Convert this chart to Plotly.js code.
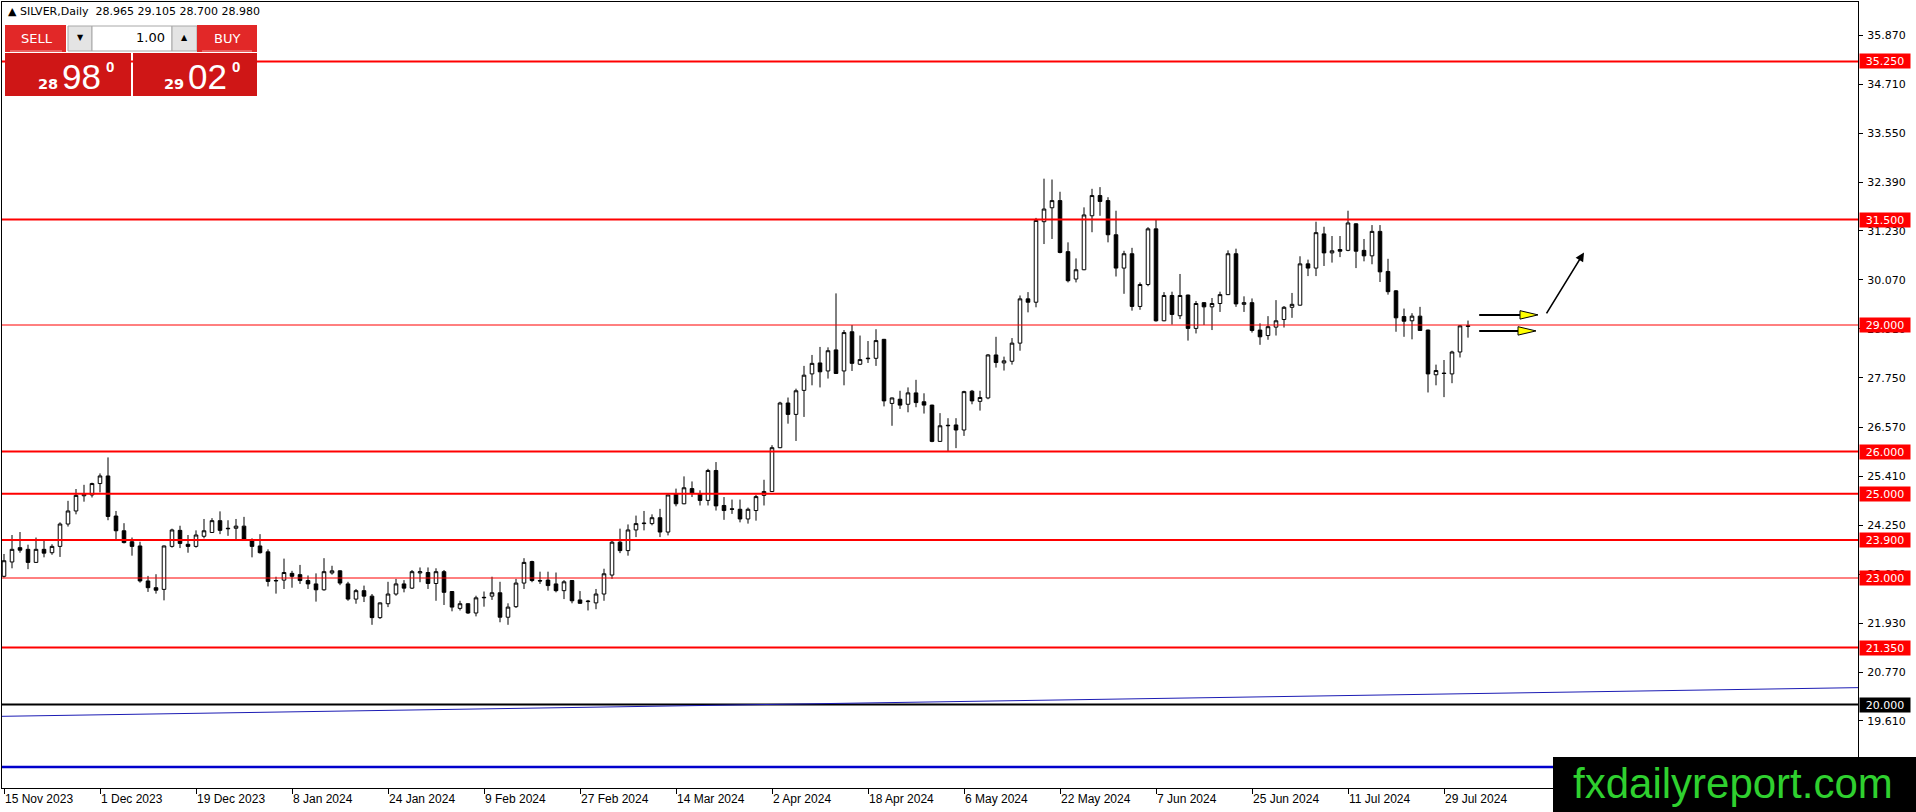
<!DOCTYPE html>
<html>
<head>
<meta charset="utf-8">
<script src="https://cdn.plot.ly/plotly-3.0.1.min.js"></script>
<style>html,body{margin:0;padding:0;background:#fff;}#chart{width:1916px;height:812px;}</style>
</head>
<body>
<div id="chart"></div>
<script>
// ---------- DATA ----------
const holidays = ["2023-12-25", "2024-01-01", "2024-03-29"];
function tradingDays(start, count, skip) {
  const out = []; const d = new Date(start + "T00:00:00Z");
  while (out.length < count) {
    const s = d.toISOString().slice(0, 10); const wd = d.getUTCDay();
    if (wd !== 0 && wd !== 6 && skip.indexOf(s) < 0) out.push(s);
    d.setUTCDate(d.getUTCDate() + 1);
  }
  return out;
}
const openP = [
23.04,23.38,23.72,23.68,23.37,23.68,23.60,23.75,24.28,24.59,24.95,24.97,25.24,25.42,24.47,24.12,23.86,23.76,22.93,22.77,
22.73,23.75,24.13,23.80,23.75,23.99,24.08,24.36,24.18,24.18,24.23,23.88,23.76,23.62,22.93,22.95,23.11,23.08,22.94,22.86,
22.72,23.12,23.17,22.86,22.50,22.70,22.57,22.06,22.39,22.62,22.86,22.76,23.12,23.13,22.87,23.15,22.68,22.28,22.39,22.17,
22.53,22.57,22.65,22.07,22.32,22.88,23.39,22.94,22.95,22.86,22.70,22.94,22.48,22.44,22.41,22.62,23.07,23.85,23.65,24.14,
24.29,24.29,24.43,24.09,25.00,24.76,25.12,25.00,24.84,25.55,24.72,24.64,24.63,24.40,24.60,24.96,25.05,26.09,27.15,26.88,
27.45,27.84,28.10,27.91,28.41,27.91,28.84,28.07,28.20,28.21,28.66,27.14,27.24,27.12,27.39,27.18,27.10,26.24,26.61,26.63,
26.51,27.43,27.19,27.27,28.29,28.10,28.14,28.57,29.62,29.54,31.45,31.78,31.95,30.74,30.09,30.31,31.59,32.07,31.95,31.14,
30.35,30.69,29.44,29.96,31.28,29.10,29.70,29.22,29.71,28.92,29.53,29.43,29.51,29.72,30.69,29.49,29.53,28.88,28.75,28.95,
29.13,29.42,29.47,30.45,30.35,31.16,30.71,30.79,30.77,31.40,30.77,30.64,31.22,30.27,29.81,29.20,29.10,29.21,28.88,27.82,
27.86,27.84,28.36,28.965];
const highP = [
23.57,24.02,24.09,23.79,23.96,23.88,23.80,24.32,24.83,25.11,25.21,25.26,25.48,25.86,24.59,24.30,23.96,23.86,23.05,23.09,
23.77,24.17,24.24,24.02,24.13,24.40,24.42,24.58,24.37,24.40,24.45,23.94,24.04,23.68,23.03,23.46,23.17,23.31,23.06,23.11,
23.47,23.29,23.18,22.91,22.74,22.82,22.62,22.42,22.91,22.98,22.95,23.19,23.25,23.25,23.23,23.19,22.69,22.46,22.40,22.58,
22.68,23.03,22.91,22.40,22.98,23.47,23.41,23.15,23.15,23.13,22.95,22.95,22.69,22.48,22.74,23.22,23.89,24.17,24.27,24.48,
24.59,24.51,24.64,24.98,25.12,25.41,25.29,25.08,25.59,25.75,24.92,24.86,24.86,24.67,24.97,25.33,26.15,27.18,27.28,27.49,
28.03,28.29,28.48,28.47,29.75,28.88,29.00,28.75,28.62,28.90,28.67,27.28,27.44,27.52,27.70,27.38,27.11,26.91,26.79,26.79,
27.44,27.46,27.44,28.31,28.72,28.25,28.69,29.70,29.78,31.54,32.47,32.45,32.16,30.96,30.58,31.79,32.23,32.27,32.03,31.71,
30.76,30.83,30.01,31.32,31.49,29.78,29.79,30.21,29.72,29.57,29.54,29.64,29.79,30.77,30.81,29.68,29.63,29.04,29.21,29.59,
29.45,29.76,30.63,30.55,31.45,31.33,31.11,31.11,31.71,31.41,31.04,31.37,31.37,30.57,29.83,29.39,29.28,29.43,28.89,28.06,
28.17,28.39,29.00,29.105];
const lowP = [
23.01,23.23,23.60,23.21,23.36,23.49,23.55,23.50,24.22,24.51,24.81,24.91,25.03,24.37,23.92,23.82,23.53,22.89,22.67,22.63,
22.47,23.72,23.71,23.60,23.72,23.94,24.07,24.04,24.00,23.92,23.91,23.49,23.58,22.80,22.63,22.74,22.77,22.86,22.74,22.44,
22.70,23.08,22.83,22.46,22.39,22.43,21.89,22.03,22.31,22.58,22.66,22.74,22.90,22.74,22.46,22.36,22.21,22.23,22.15,22.09,
22.32,22.48,21.95,21.89,22.29,22.74,22.90,22.86,22.70,22.66,22.50,22.40,22.39,22.23,22.26,22.46,22.98,23.59,23.53,23.97,
24.13,24.25,23.97,24.01,24.70,24.75,24.92,24.72,24.72,24.60,24.38,24.52,24.32,24.29,24.36,24.72,25.04,26.08,26.66,26.25,
26.82,27.57,27.52,27.73,27.84,27.57,27.91,28.05,28.10,28.03,27.07,26.61,27.01,26.93,27.05,26.90,26.22,26.23,26.00,26.08,
26.37,27.12,26.97,27.24,27.99,27.92,28.06,28.39,29.30,29.42,30.92,31.04,30.70,30.01,30.01,30.30,31.20,31.59,30.96,30.15,
29.74,29.34,29.36,29.92,29.08,29.09,29.01,29.14,28.63,28.80,29.00,28.88,29.31,29.71,29.43,29.31,28.82,28.53,28.65,28.75,
28.94,29.17,29.46,30.16,30.16,30.40,30.48,30.61,30.75,30.35,30.51,30.44,30.02,29.72,28.84,28.72,28.66,28.86,27.40,27.57,
27.29,27.62,28.23,28.700];
const closeP = [
23.41,23.68,23.66,23.37,23.68,23.59,23.75,24.28,24.59,24.96,24.99,25.24,25.42,24.46,24.12,23.84,23.75,22.93,22.77,22.71,
23.76,24.14,23.82,23.75,24.02,24.12,24.36,24.13,24.17,24.23,23.92,23.75,23.60,22.92,22.94,23.13,23.04,22.94,22.86,22.72,
23.15,23.17,22.88,22.50,22.70,22.57,22.06,22.41,22.62,22.86,22.76,23.15,23.15,22.87,23.15,22.66,22.31,22.39,22.17,22.53,
22.54,22.65,22.07,22.31,22.88,23.37,22.94,22.93,22.82,22.70,22.91,22.46,22.40,22.45,22.62,23.10,23.85,23.65,24.14,24.29,
24.30,24.43,24.09,24.97,24.76,25.14,25.01,24.84,25.55,24.71,24.60,24.63,24.40,24.63,24.93,25.05,26.09,27.15,26.88,27.44,
27.81,28.09,27.89,28.39,27.85,28.82,28.09,28.18,28.21,28.63,27.20,27.27,27.10,27.39,27.16,27.10,26.24,26.61,26.62,26.51,
27.42,27.20,27.28,28.29,28.11,28.15,28.57,29.62,29.54,31.48,31.75,31.95,30.72,30.05,30.31,31.61,32.07,31.93,31.14,30.35,
30.69,29.44,29.96,31.28,29.10,29.70,29.25,29.70,28.92,29.51,29.43,29.51,29.72,30.69,29.50,29.53,28.87,28.72,28.96,29.10,
29.42,29.49,30.45,30.35,31.19,30.71,30.76,30.75,31.42,30.75,30.64,31.22,30.26,29.79,29.17,29.09,29.21,28.87,27.84,27.92,
27.85,28.36,28.98,28.980];
const dates = tradingDays("2023-11-15", openP.length, holidays);
const tickDates = ["2023-11-15","2023-12-01","2023-12-19","2024-01-08","2024-01-24","2024-02-09","2024-02-27","2024-03-14",
  "2024-04-02","2024-04-18","2024-05-06","2024-05-22","2024-06-07","2024-06-25","2024-07-11","2024-07-29"];
const tickLabels = ["15 Nov 2023","1 Dec 2023","19 Dec 2023","8 Jan 2024","24 Jan 2024","9 Feb 2024","27 Feb 2024","14 Mar 2024",
  "2 Apr 2024","18 Apr 2024","6 May 2024","22 May 2024","7 Jun 2024","25 Jun 2024","11 Jul 2024","29 Jul 2024"];
const priceTicks = [35.87,34.71,33.55,32.39,31.23,30.07,28.91,27.75,26.57,25.41,24.25,23.09,21.93,20.77,19.61];
const priceTickText = ["35.870","34.710","33.550","32.390","31.230","30.070","28.910","27.750","26.570","25.410","24.250","23.090","21.930","20.770","19.610"];
const redLevels = [35.25, 31.5, 29.0, 26.0, 25.0, 23.9, 23.0, 21.35];
const redLevelWidths = [2, 2, 1, 2, 2, 2, 1, 2];
const blackLevel = 20.0;
const trendLine = [19.72, 20.40];     // blue trend line, left and right price
const lowerBlueLevel = 18.52;
const header = "\u25B2 SILVER,Daily\u00A0\u00A028.965 29.105 28.700 28.980";
const arrowPrices = [29.24, 28.86];
const diagArrow = {x0: 192.7, y0: 29.24, x1: 197.5, y1: 30.72};

// ---------- GEOMETRY ----------
const W = 1916, H = 812, ML = 2, MR = 58, MT = 2, MB = 24;
const PW = W - ML - MR, PH = H - MT - MB;
const px = x => (x - ML) / PW;
const py = y => 1 - (y - MT) / PH;

const xIdx = dates.map((d, i) => i);
const tickVals = tickDates.map(d => dates.indexOf(d));

const shapes = [];
redLevels.forEach((v, k) => shapes.push({type:'line', xref:'paper', yref:'y', x0:0, x1:1, y0:v, y1:v,
  line:{color:'#ff0000', width:redLevelWidths[k]}}));
shapes.push({type:'line', xref:'paper', yref:'y', x0:0, x1:1, y0:blackLevel, y1:blackLevel, line:{color:'#000', width:2}});
shapes.push({type:'line', xref:'paper', yref:'y', x0:0, x1:1, y0:trendLine[0], y1:trendLine[1], line:{color:'#1c1cb4', width:1}});
shapes.push({type:'line', xref:'paper', yref:'y', x0:0, x1:1, y0:lowerBlueLevel, y1:lowerBlueLevel, line:{color:'#0000cc', width:2.5}});

// yellow arrows
const arrowStart = 184.4;
[[191.75, 189.5],[191.5, 189.25]].forEach((a, k) => {
  const yv = arrowPrices[k], hh = 0.1;
  shapes.push({type:'line', xref:'x', yref:'y', x0:arrowStart, x1:a[1]+0.5, y0:yv, y1:yv, line:{color:'#000', width:2}});
  shapes.push({type:'path', xref:'x', yref:'y',
    path:`M ${a[1]},${yv-hh} L ${a[0]},${yv} L ${a[1]},${yv+hh} Z`, fillcolor:'#ffff00', line:{color:'#000', width:1}});
});

function rect(x0, y0, x1, y1, fill, lineColor) {
  shapes.push({type:'rect', xref:'paper', yref:'paper', x0:px(x0), x1:px(x1), y0:py(y1), y1:py(y0),
    fillcolor:fill, line:{width: lineColor ? 1 : 0, color: lineColor || fill}});
}
function hline(x0, x1, y, color) {
  shapes.push({type:'line', xref:'paper', yref:'paper', x0:px(x0), x1:px(x1), y0:py(y), y1:py(y), line:{color:color, width:1}});
}
// trading panel
rect(5, 25, 66, 52, '#e22828');
rect(68, 26, 92, 51, '#e4e4e4', '#a8a8a8');
rect(92, 26, 172, 51, '#ffffff', '#a8a8a8');
rect(172, 26, 197, 51, '#e4e4e4', '#a8a8a8');
rect(197, 25, 257, 52, '#e22828');
hline(10, 62, 51, '#f29a9a');
hline(202, 252, 51, '#f29a9a');
rect(5, 53, 131, 96, '#cf1616');
rect(133, 53, 257, 96, '#cf1616');
// watermark
rect(1553, 757, 1917, 813, '#000000');

const annotations = [];
function txt(x, y, text, size, color, opts) {
  annotations.push(Object.assign({xref:'paper', yref:'paper', x:px(x), y:py(y), text:text, showarrow:false,
    xanchor:'center', yanchor:'middle', font:{family:'DejaVu Sans', size:size, color:color}}, opts || {}));
}
txt(6, 12, header, 11, '#000', {xanchor:'left'});
txt(37, 39, 'SELL', 13, '#fff');
txt(227, 39, 'BUY', 13, '#fff');
txt(80, 38, '\u25BC', 8, '#000');
txt(184, 38, '\u25B2', 8, '#000');
txt(167, 38, '1.00', 13, '#000', {xanchor:'right'});
txt(47.5, 84, '28', 14.5, '#fff', {font:{family:'DejaVu Sans', size:14.5, color:'#fff', weight:'bold'}});
txt(81, 76, '98', 35, '#fff', {font:{family:'Liberation Sans', size:35, color:'#fff'}});
txt(109.5, 66, '0', 15, '#fff', {font:{family:'Liberation Sans', size:15, color:'#fff', weight:'bold'}});
txt(174, 84, '29', 14.5, '#fff', {font:{family:'DejaVu Sans', size:14.5, color:'#fff', weight:'bold'}});
txt(207, 76, '02', 35, '#fff', {font:{family:'Liberation Sans', size:35, color:'#fff'}});
txt(236, 66, '0', 15, '#fff', {font:{family:'Liberation Sans', size:15, color:'#fff', weight:'bold'}});
txt(1733, 783, 'fxdailyreport.com', 42, '#2fd02f', {font:{family:'Liberation Sans', size:42, color:'#2fd02f'}});

// price labels on the right axis
function levelLabel(v, bg) {
  annotations.push({xref:'paper', yref:'y', x:1, y:v, xanchor:'left', yanchor:'middle', xshift:1,
    text:v.toFixed(3), showarrow:false, bgcolor:bg, width:48, height:12, borderpad:1, align:'center',
    font:{family:'DejaVu Sans', size:11, color:'#fff'}});
}
redLevels.forEach(v => levelLabel(v, '#ff0000'));
levelLabel(blackLevel, '#000000');
// diagonal arrow
annotations.push({xref:'x', yref:'y', axref:'x', ayref:'y', x:diagArrow.x1, y:diagArrow.y1, ax:diagArrow.x0, ay:diagArrow.y0,
  text:'', showarrow:true, arrowhead:2, arrowsize:1.1, arrowwidth:1.6, arrowcolor:'#000', standoff:0});

const trace = {
  type:'candlestick', x:xIdx, open:openP, high:highP, low:lowP, close:closeP,
  text:dates, hoverinfo:'x+text',
  increasing:{line:{color:'#000', width:1}, fillcolor:'#ffffff'},
  decreasing:{line:{color:'#000', width:1}, fillcolor:'#000000'},
  whiskerwidth:0, showlegend:false
};

const layout = {
  width:W, height:H, margin:{l:ML, r:MR, t:MT, b:MB, pad:0},
  paper_bgcolor:'#fff', plot_bgcolor:'#fff', showlegend:false, boxgap:0.36,
  font:{family:'DejaVu Sans', color:'#000'},
  xaxis:{type:'linear', range:[-0.25, 231.75], showgrid:false, zeroline:false, showline:true, mirror:true,
    linecolor:'#000', linewidth:1, ticks:'outside', ticklen:5, tickcolor:'#000', tickwidth:1,
    tickvals:tickVals, ticktext:tickLabels, ticklabelposition:'outside right',
    tickfont:{family:'Liberation Sans', size:12, color:'#000'}, rangeslider:{visible:false}, automargin:false, fixedrange:true},
  yaxis:{side:'right', range:[18.02, 36.66], showgrid:false, zeroline:false, showline:true, mirror:true,
    linecolor:'#000', linewidth:1, ticks:'outside', ticklen:4, tickcolor:'#000', ticklabelstandoff:2,
    tickvals:priceTicks, ticktext:priceTickText, tickfont:{family:'DejaVu Sans', size:11, color:'#000'},
    automargin:false, fixedrange:true},
  shapes:shapes, annotations:annotations
};
Plotly.newPlot('chart', [trace], layout, {displayModeBar:false, staticPlot:true});
</script>
</body>
</html>
